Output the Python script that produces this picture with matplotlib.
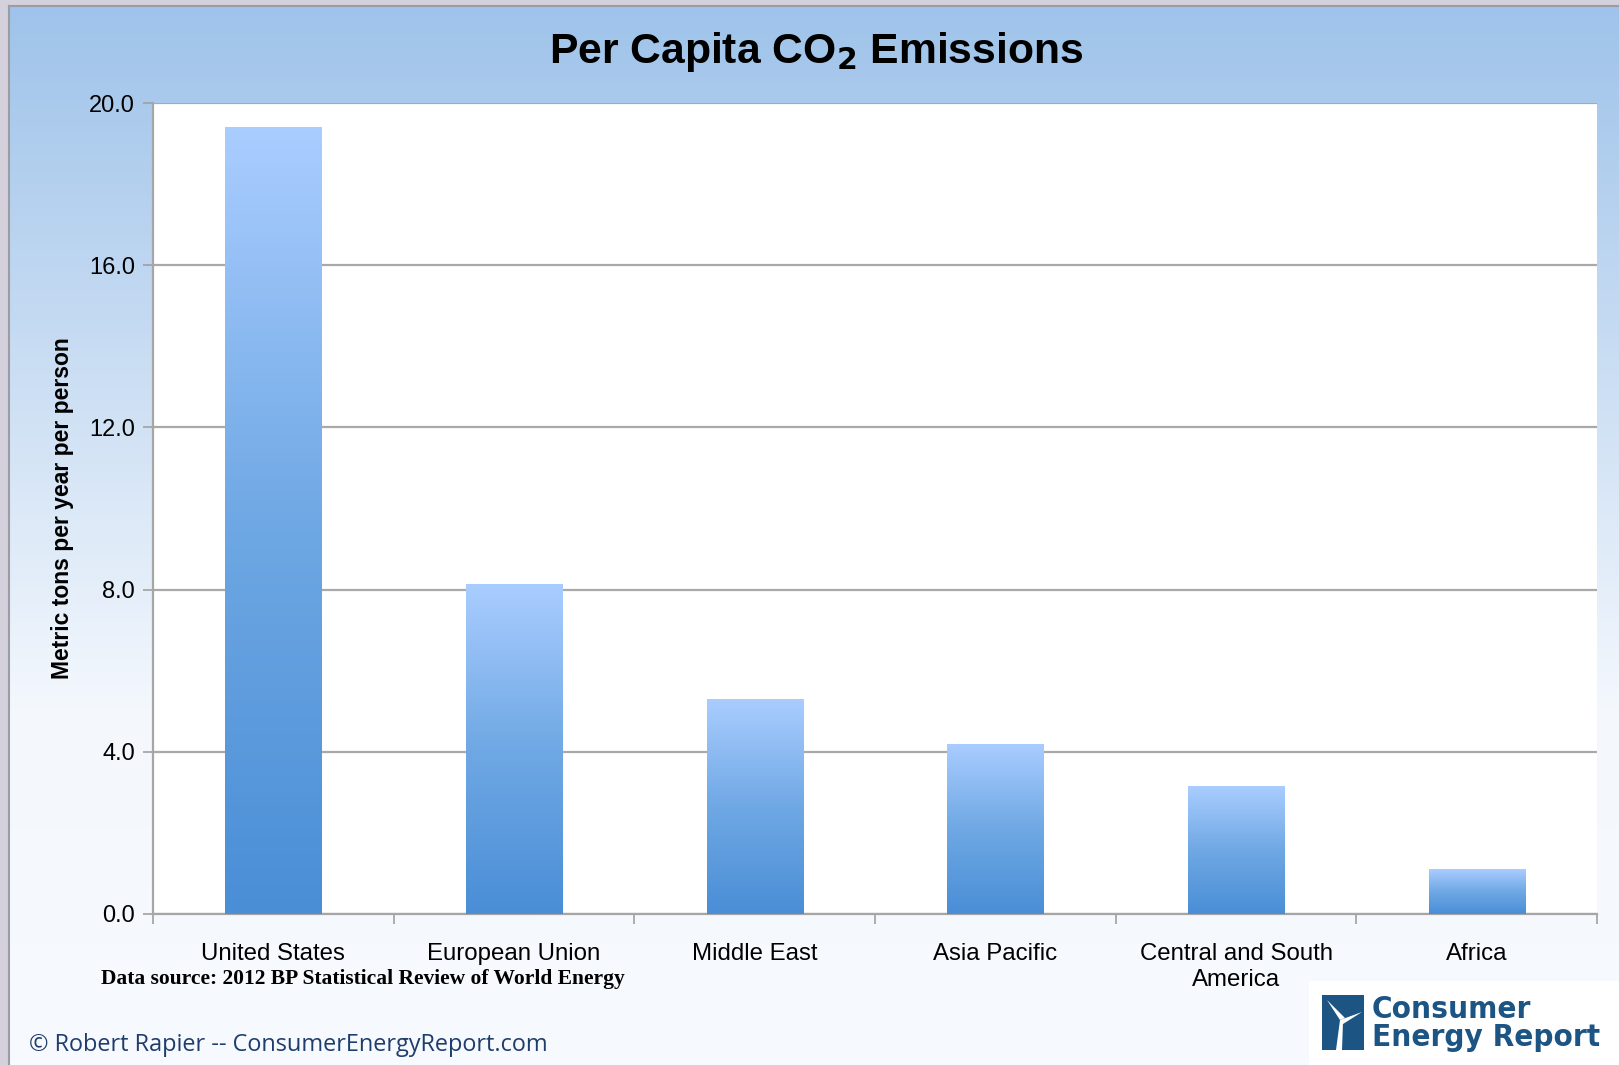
import numpy as np
import matplotlib.pyplot as plt
from matplotlib.colors import LinearSegmentedColormap
from matplotlib.patches import Rectangle, Polygon

# Дані
regions = ["United States", "European Union", "Middle East", "Asia Pacific",
           "Central and South\nAmerica", "Africa"]
emissions = [19.4, 8.15, 5.3, 4.2, 3.15, 1.1]
y_ticks = [0.0, 4.0, 8.0, 12.0, 16.0, 20.0]

W, H = 1619, 1065
fig = plt.figure(figsize=(W / 100, H / 100), dpi=100)
fig.patch.set_facecolor("#d5d1dc")

# Фон слайда: градієнт від блакитного до майже білого
bg = fig.add_axes([0, 0, 1, 1], zorder=-10)
bg.set_xlim(0, W)
bg.set_ylim(H, 0)
bg.axis("off")
bg_cmap = LinearSegmentedColormap.from_list("bg", ["#9fc3ea", "#c9ddf3", "#f4f8fd", "#f7fafe"])
grad = np.linspace(0, 1, 256).reshape(-1, 1)
bg.imshow(grad, cmap=bg_cmap, aspect="auto", extent=[9, W, H, 6], zorder=0)
bg.plot([9, 9], [6, H], color="#9c9ca4", lw=1.5, zorder=1)
bg.plot([9, W], [6, 6], color="#9c9ca4", lw=1.5, zorder=1)

# Основний графік
ax = fig.add_axes([153 / W, 1 - 914 / H, (1597 - 153) / W, (914 - 103) / H])
ax.set_facecolor("white")
x = np.arange(len(regions))
bars = ax.bar(x, emissions, width=0.4, color="none", zorder=3)

bar_cmap = LinearSegmentedColormap.from_list("bar", ["#4a8ed6", "#6fa8e4", "#aacdff"])
bar_grad = np.linspace(0, 1, 256).reshape(-1, 1)
for bar in bars:
    bx, bw, bh = bar.get_x(), bar.get_width(), bar.get_height()
    im = ax.imshow(bar_grad, cmap=bar_cmap, origin="lower", aspect="auto",
                   extent=[bx, bx + bw, 0, bh], zorder=3)
    im.set_clip_path(bar)

ax.set_xlim(-0.5, len(regions) - 0.5)
ax.set_ylim(0, 20)
ax.set_yticks(y_ticks)
ax.set_yticklabels([f"{v:.1f}" for v in y_ticks], fontsize=17, family="Liberation Sans")
ax.yaxis.grid(True, color="#a9a9a9", lw=1.6, zorder=1)
ax.set_axisbelow(True)

ax.set_xticks(x)
ax.set_xticklabels(regions, fontsize=17.3, family="Liberation Sans", linespacing=1.25)
ax.set_xticks(np.arange(len(regions) + 1) - 0.5, minor=True)
ax.tick_params(axis="x", which="major", length=0, pad=21)
ax.tick_params(axis="x", which="minor", length=7, color="#a0a0a0", width=1.2)
ax.tick_params(axis="y", length=7, color="#a0a0a0", width=1.2, pad=6)

for side in ["top", "right"]:
    ax.spines[side].set_visible(False)
for side in ["left", "bottom"]:
    ax.spines[side].set_color("#a6a6a6")
    ax.spines[side].set_linewidth(1.6)

ax.set_ylabel("Metric tons per year per person", fontsize=16.5, fontweight="bold",
              family="Liberation Sans", labelpad=11)

# Заголовок
fig.text(816 / W, 1 - 52 / H, r"Per Capita CO$_\mathbf{2}$ Emissions", ha="center", va="center",
         fontsize=30.7, fontweight="bold", family="Liberation Sans")

# Підписи внизу
fig.text(363 / W, 1 - 979 / H, "Data source: 2012 BP Statistical Review of World Energy",
         ha="center", va="center", fontsize=15.5, fontweight="bold", family="Liberation Serif")
fig.text(29 / W, 1 - 1045 / H, "\u00a9 Robert Rapier -- ConsumerEnergyReport.com",
         ha="left", va="center", fontsize=16.9, color="#1f3d6c", family="Open Sans")

# Логотип
bg.add_patch(Rectangle((1309, 981), W - 1309, H - 981, facecolor="white", edgecolor="none", zorder=2))
bg.add_patch(Rectangle((1322, 995), 42, 55, facecolor="#1c5484", edgecolor="none", zorder=3))
bg.add_patch(Polygon([[1340, 1020], [1327, 1000], [1345, 1018]], facecolor="white", zorder=4))
bg.add_patch(Polygon([[1340, 1020], [1362, 1012], [1343, 1024]], facecolor="white", zorder=4))
bg.add_patch(Polygon([[1340, 1020], [1336, 1050], [1342, 1050], [1343, 1022]], facecolor="white", zorder=4))
bg.text(1372, 1010, "Consumer", ha="left", va="center", fontsize=22.5, fontweight="heavy",
        color="#1c5484", family="DejaVu Sans", fontstretch="condensed", zorder=5)
bg.text(1372, 1038, "Energy Report", ha="left", va="center", fontsize=22.5, fontweight="heavy",
        color="#1c5484", family="DejaVu Sans", fontstretch="condensed", zorder=5)

plt.savefig("out.png", dpi=100)
